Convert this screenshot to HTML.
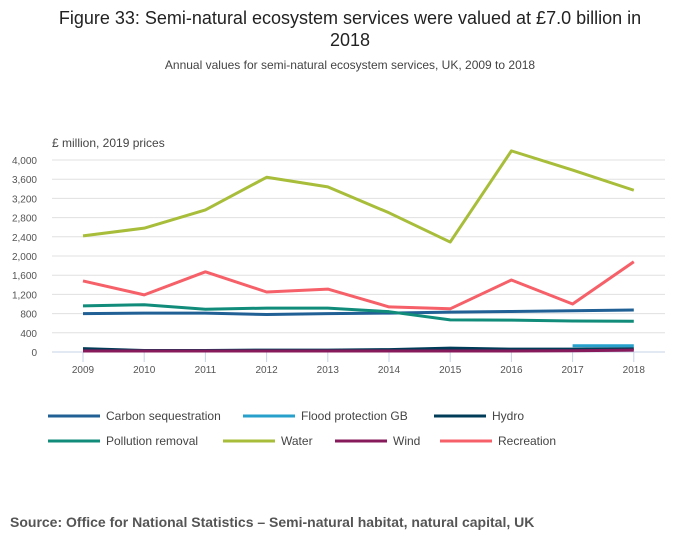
<!DOCTYPE html>
<html><head><meta charset="utf-8"><style>
body{margin:0;width:700px;height:549px;background:#fff;font-family:"Liberation Sans",sans-serif;overflow:hidden}
</style></head><body>
<svg width="700" height="549" id="svg" font-family="Liberation Sans, sans-serif">
<text x="350" y="24" text-anchor="middle" font-size="18" fill="#222">Figure 33: Semi-natural ecosystem services were valued at £7.0 billion in</text>
<text x="350" y="46" text-anchor="middle" font-size="18" fill="#222">2018</text>
<text x="350" y="69" text-anchor="middle" font-size="12" fill="#444">Annual values for semi-natural ecosystem services, UK, 2009 to 2018</text>
<text x="52" y="147" font-size="12" fill="#444">£ million, 2019 prices</text>
<g id="grid"></g><g id="lines"></g><g id="legend"></g>
<text x="10" y="527" font-size="14" font-weight="bold" fill="#555">Source: Office for National Statistics – Semi-natural habitat, natural capital, UK</text>
</svg>
<script>
const years=[2009,2010,2011,2012,2013,2014,2015,2016,2017,2018];
const yTicks=[0,400,800,1200,1600,2000,2400,2800,3200,3600,4000];
const carbon=[800,810,810,780,800,810,830,845,860,875];
const flood=[null,null,null,null,null,null,null,null,130,130];
const hydro=[70,30,30,40,40,50,80,60,60,70];
const pollution=[960,985,890,915,915,840,670,665,645,640];
const water=[2420,2580,2960,3640,3440,2900,2290,4190,3790,3370];
const wind=[20,20,20,20,20,20,20,20,25,40];
const recreation=[1480,1190,1670,1250,1310,940,900,1500,1000,1880];
const NS="http://www.w3.org/2000/svg";
const x=i=>83+i*61.2, y=v=>352-v*0.048;
function mk(t,a,p){const e=document.createElementNS(NS,t);for(const k in a)e.setAttribute(k,a[k]);p.appendChild(e);return e;}
const g=document.getElementById('grid');
yTicks.forEach(v=>{const l=mk('line',{x1:52,x2:665,y1:y(v),y2:y(v),stroke:v?'#e0e0e0':'#c6d3e6','stroke-width':1},g);

const t=mk('text',{x:37,y:y(v)+4,'text-anchor':'end','font-size':10,fill:'#555'},g);t.textContent=v.toLocaleString('en-US');
});
years.forEach((yr,i)=>{const l=mk('line',{x1:x(i),x2:x(i),y1:352,y2:362,stroke:'#c6d3e6'},g);

const t=mk('text',{x:x(i),y:373,'text-anchor':'middle','font-size':10,fill:'#555'},g);t.textContent=yr;
});
const series=[["Carbon sequestration",carbon,"#206095"],["Flood protection GB",flood,"#27a0cc"],["Hydro",hydro,"#003c57"],["Pollution removal",pollution,"#118c7b"],["Water",water,"#a8bd3a"],["Wind",wind,"#871a5b"],["Recreation",recreation,"#f66068"]];
const L=document.getElementById('lines');
[2,5,1,0,3,6,4].forEach(si=>{const [n,d,c]=series[si];let p='';d.forEach((v,i)=>{if(v==null)return;p+=(p?'L':'M')+x(i)+','+y(v);});
const e=mk('path',{d:p,fill:'none',stroke:c,'stroke-width':3,'stroke-linejoin':'round'},L);
});
const lg=document.getElementById('legend');
const lp=[[48,416],[243,416],[434,416],[48,441],[223,441],[335,441],[440,441]];
series.forEach(([n,d,c],i)=>{const [lx,ly]=lp[i];const gg=mk('g',{},lg);

mk('line',{x1:lx,x2:lx+52,y1:ly,y2:ly,stroke:c,'stroke-width':3},gg);
const t=mk('text',{x:lx+58,y:ly+4,'font-size':12,fill:'#444'},gg);t.textContent=n;});
</script>
</body></html>
